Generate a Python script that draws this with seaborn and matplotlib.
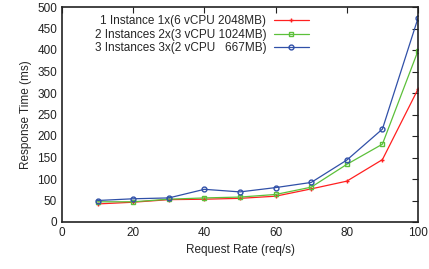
import pandas as pd
import matplotlib
matplotlib.use("Agg")
import matplotlib.pyplot as plt
import seaborn as sns

# -------------------------------------
# Data
# -------------------------------------
rates = [10, 20, 30, 40, 50, 60, 70, 80, 90, 100]
one_instance = [42, 46, 52, 53, 55, 60, 77, 95, 145, 309]
two_instances = [47, 47, 53, 56, 58, 64, 81, 134, 181, 398]
three_instances = [50, 54, 56, 76, 70, 80, 92, 144, 216, 474]
labels = [
    "1 Instance 1x(6 vCPU 2048MB)",
    "2 Instances 2x(3 vCPU 1024MB)",
    "3 Instances 3x(2 vCPU   667MB)",
]

df = pd.concat([
    pd.DataFrame({"rate": rates, "ms": vals, "setup": lab})
    for vals, lab in zip([one_instance, two_instances, three_instances], labels)
])

sns.set_style("white")
plt.rcParams["font.family"] = ["Liberation Sans", "DejaVu Sans"]

colors = ["#ff2020", "#5cc03a", "#3050a8"]
markers = ["+", "s", "o"]

fig = plt.figure(figsize=(4.29, 2.69), dpi=100)
ax = fig.add_axes([62 / 429, 47 / 269, 356 / 429, 215 / 269])

for lab, col, mk in zip(labels, colors, markers):
    sns.lineplot(data=df[df["setup"] == lab], x="rate", y="ms", ax=ax,
                 color=col, marker=mk, markersize=3.5, markerfacecolor="none",
                 markeredgecolor=col, markeredgewidth=1.0, linewidth=0.9,
                 label=lab)

ax.set_xlim(0, 100)
ax.set_ylim(0, 500)
ax.set_xticks(range(0, 101, 20))
ax.set_yticks(range(0, 501, 50))
ax.set_xlabel("Request Rate (req/s)", fontsize=8.5)
ax.set_ylabel("Response Time (ms)", fontsize=8.5)
ax.tick_params(direction="in", length=4, width=0.8, top=True, right=True,
               labelsize=8.5, colors="#222222", labelcolor="#222222")
for s in ax.spines.values():
    s.set_visible(True)
    s.set_linewidth(1.2)
    s.set_color("#222222")

leg = ax.legend(loc="upper right", bbox_to_anchor=(0.717, 1.0), frameon=False,
                markerfirst=False, fontsize=8.5, handlelength=3.0,
                labelspacing=0.13, borderaxespad=0.3, handletextpad=0.6)
for t in leg.get_texts():
    t.set_ha("right")
leg._legend_box.align = "right"

fig.savefig("out.png", dpi=100)
